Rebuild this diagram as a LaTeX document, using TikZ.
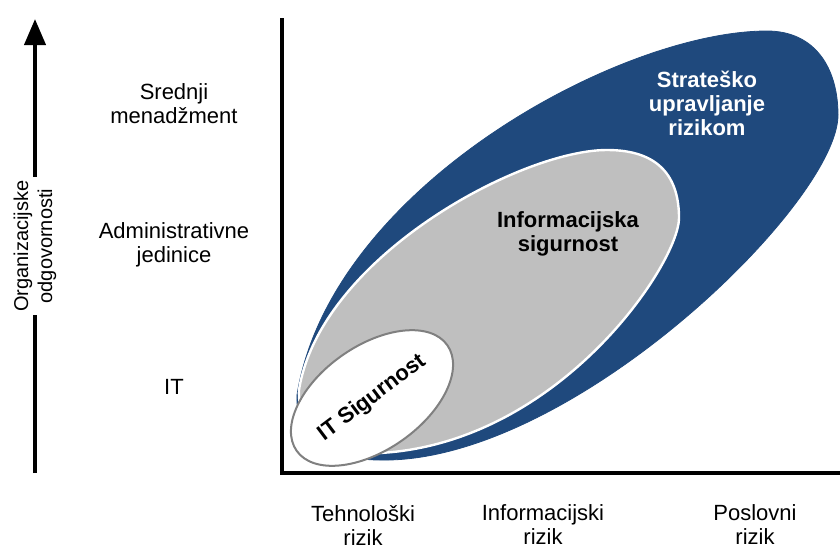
\documentclass[tikz,border=0pt]{standalone}
\usepackage{fontspec}
\setmainfont{Liberation Sans}
\usepackage{tikz}
\usetikzlibrary{arrows.meta}
\definecolor{riskblue}{RGB}{31,73,125}
\definecolor{riskgray}{RGB}{191,191,191}
\definecolor{rimgray}{RGB}{128,128,128}
\tikzset{
  axisline/.style={line width=2pt, color=black},
  lbl/.style={align=center, font=\fontsize{11}{12}\selectfont},
  boldlbl/.style={align=center, font=\fontsize{11}{12}\selectfont\bfseries}
}
\begin{document}
\begin{tikzpicture}[x=0.5pt, y=0.5pt]
      \useasboundingbox (0,0) rectangle (840,548);
      \filldraw [color=riskblue] (297,153) .. controls (330,360) and (620,517) .. (767,517)
        .. controls (815,517) and (838,480) .. (838,433)
        .. controls (838,345) and (570,84) .. (380,88)
        .. controls (330,88) and (295,110) .. cycle;
      \filldraw [fill=riskgray, draw=white, line width=1.2pt] (299,158) .. controls (320,290) and (520,398) .. (607,398)
        .. controls (660,398) and (679,370) .. (679,330)
        .. controls (679,285) and (560,105) .. (380,95)
        .. controls (330,95) and (297,120) .. cycle;
      \filldraw [fill=white, draw=rimgray, line width=1pt, rotate around={35:(372,150)}] (372,150) ellipse [x radius=92, y radius=52];
      \coordinate (ytop) at (35,529);
      \coordinate (ybot) at (35,75);
      \coordinate (atop) at (282,530);
      \coordinate (aorig) at (282,75);
      \coordinate (aright) at (840,75);
      \draw [axisline, -{Triangle[width=10.5pt, length=13pt]}] (ybot) -- (ytop);
      \draw [axisline] (atop) -- (aorig) -- (aright);
      \node [lbl, fill=white, inner sep=1.5pt, rotate=90, font=\fontsize{10}{12}\selectfont] (resp) at (35,302) {Organizacijske\\odgovornosti};
      \node [lbl] (mgmt) at (174,444.5) {Srednji\\menadžment};
      \node [lbl] (admin) at (174,303) {Administrativne\\jedinice};
      \node [lbl] (it) at (174,161) {IT};
      \node [lbl] (tech) at (363,23) {Tehnološki\\rizik};
      \node [lbl] (info) at (543,23) {Informacijski\\rizik};
      \node [lbl] (busi) at (755,23) {Poslovni\\rizik};
      \node [boldlbl, text=white] (strat) at (707,445) {Strateško\\upravljanje\\rizikom};
      \node [boldlbl] (infosec) at (568,314.5) {Informacijska\\sigurnost};
      \node [boldlbl, rotate=37] (itsec) at (372,150) {IT Sigurnost};
\end{tikzpicture}
\end{document}
